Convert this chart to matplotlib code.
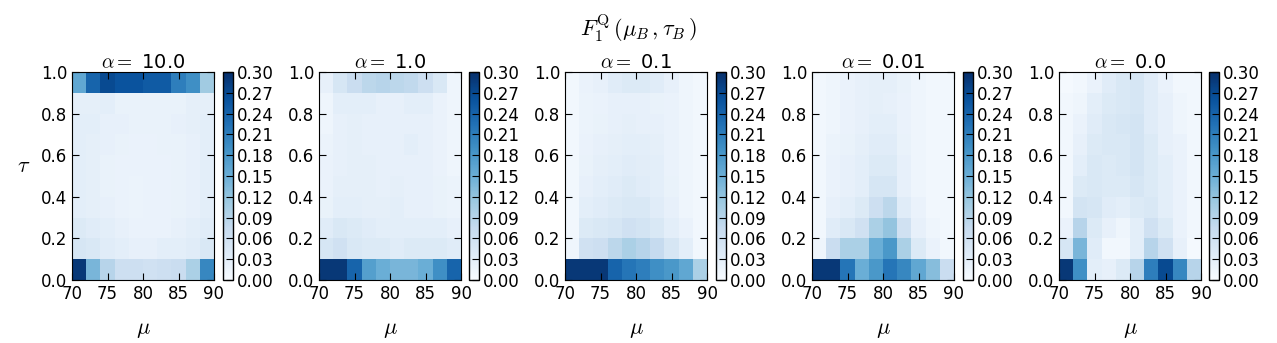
import numpy as np
import matplotlib
matplotlib.use("Agg")
import matplotlib.pyplot as plt

plt.rcParams["mathtext.fontset"] = "cm"
plt.rcParams["font.size"] = 12
plt.rcParams["xtick.direction"] = "in"
plt.rcParams["ytick.direction"] = "in"
plt.rcParams["xtick.top"] = True
plt.rcParams["ytick.right"] = True

mu_edges = np.arange(70, 91, 2)
tau_edges = np.linspace(0.0, 1.0, 11)
alphas = ["10.0", "1.0", "0.1", "0.01", "0.0"]
cbar_ticks = np.arange(0, 0.301, 0.03)

# rows go from tau=0.0-0.1 (first) to tau=0.9-1.0 (last); columns mu 70..90
f1_a10 = [
    [0.29, 0.14, 0.09, 0.065, 0.065, 0.06, 0.065, 0.07, 0.10, 0.20],
    [0.05, 0.045, 0.035, 0.03, 0.025, 0.025, 0.03, 0.03, 0.035, 0.045],
    [0.04, 0.035, 0.03, 0.025, 0.02, 0.02, 0.02, 0.025, 0.03, 0.035],
    [0.03, 0.028, 0.025, 0.02, 0.018, 0.02, 0.02, 0.022, 0.025, 0.03],
    [0.03, 0.028, 0.022, 0.02, 0.018, 0.02, 0.02, 0.022, 0.025, 0.03],
    [0.03, 0.028, 0.022, 0.02, 0.02, 0.02, 0.02, 0.022, 0.025, 0.03],
    [0.03, 0.028, 0.025, 0.022, 0.02, 0.02, 0.022, 0.022, 0.025, 0.03],
    [0.03, 0.03, 0.025, 0.025, 0.022, 0.022, 0.022, 0.025, 0.028, 0.03],
    [0.028, 0.028, 0.03, 0.022, 0.022, 0.022, 0.022, 0.022, 0.028, 0.028],
    [0.16, 0.24, 0.27, 0.26, 0.26, 0.25, 0.25, 0.21, 0.19, 0.11],
]
f1_a1 = [
    [0.29, 0.29, 0.24, 0.17, 0.15, 0.14, 0.14, 0.15, 0.19, 0.24],
    [0.05, 0.06, 0.045, 0.04, 0.04, 0.035, 0.04, 0.04, 0.04, 0.035],
    [0.035, 0.045, 0.04, 0.035, 0.03, 0.03, 0.03, 0.03, 0.03, 0.025],
    [0.022, 0.03, 0.03, 0.028, 0.028, 0.03, 0.025, 0.025, 0.022, 0.018],
    [0.02, 0.028, 0.028, 0.028, 0.025, 0.028, 0.025, 0.025, 0.022, 0.018],
    [0.02, 0.025, 0.028, 0.028, 0.025, 0.025, 0.025, 0.025, 0.02, 0.015],
    [0.018, 0.025, 0.028, 0.025, 0.025, 0.025, 0.03, 0.025, 0.02, 0.015],
    [0.015, 0.025, 0.028, 0.025, 0.025, 0.025, 0.025, 0.025, 0.02, 0.015],
    [0.015, 0.03, 0.03, 0.03, 0.025, 0.025, 0.03, 0.03, 0.02, 0.015],
    [0.025, 0.05, 0.07, 0.085, 0.09, 0.085, 0.08, 0.065, 0.045, 0.015],
]
f1_a01 = [
    [0.29, 0.29, 0.29, 0.24, 0.22, 0.21, 0.19, 0.18, 0.16, 0.10],
    [0.015, 0.06, 0.065, 0.085, 0.10, 0.09, 0.075, 0.05, 0.03, 0.01],
    [0.01, 0.04, 0.045, 0.05, 0.06, 0.055, 0.045, 0.03, 0.02, 0.01],
    [0.01, 0.03, 0.035, 0.04, 0.045, 0.045, 0.035, 0.025, 0.015, 0.01],
    [0.01, 0.025, 0.03, 0.035, 0.04, 0.035, 0.03, 0.022, 0.015, 0.01],
    [0.01, 0.022, 0.028, 0.03, 0.035, 0.032, 0.03, 0.02, 0.015, 0.01],
    [0.01, 0.02, 0.025, 0.028, 0.03, 0.03, 0.028, 0.02, 0.015, 0.01],
    [0.01, 0.018, 0.022, 0.025, 0.028, 0.025, 0.025, 0.02, 0.015, 0.01],
    [0.01, 0.018, 0.02, 0.025, 0.025, 0.025, 0.022, 0.02, 0.015, 0.01],
    [0.01, 0.02, 0.025, 0.035, 0.04, 0.04, 0.035, 0.025, 0.015, 0.01],
]
f1_a001 = [
    [0.29, 0.29, 0.22, 0.15, 0.18, 0.22, 0.20, 0.16, 0.13, 0.07],
    [0.015, 0.07, 0.10, 0.10, 0.15, 0.18, 0.10, 0.04, 0.02, 0.01],
    [0.01, 0.035, 0.045, 0.06, 0.10, 0.12, 0.06, 0.025, 0.015, 0.01],
    [0.01, 0.025, 0.03, 0.04, 0.065, 0.085, 0.035, 0.02, 0.01, 0.01],
    [0.01, 0.02, 0.025, 0.03, 0.05, 0.05, 0.025, 0.015, 0.01, 0.01],
    [0.01, 0.02, 0.025, 0.03, 0.04, 0.04, 0.025, 0.015, 0.01, 0.01],
    [0.01, 0.018, 0.022, 0.028, 0.035, 0.035, 0.022, 0.015, 0.01, 0.01],
    [0.01, 0.015, 0.02, 0.025, 0.03, 0.03, 0.02, 0.015, 0.01, 0.01],
    [0.01, 0.015, 0.02, 0.025, 0.028, 0.025, 0.02, 0.015, 0.01, 0.01],
    [0.01, 0.015, 0.02, 0.025, 0.028, 0.028, 0.022, 0.015, 0.01, 0.01],
]
f1_a0 = [
    [0.29, 0.19, 0.03, 0.025, 0.04, 0.09, 0.21, 0.27, 0.20, 0.09],
    [0.05, 0.14, 0.035, 0.01, 0.01, 0.03, 0.09, 0.06, 0.025, 0.005],
    [0.02, 0.09, 0.04, 0.025, 0.015, 0.03, 0.06, 0.04, 0.02, 0.01],
    [0.01, 0.055, 0.05, 0.035, 0.03, 0.04, 0.045, 0.03, 0.02, 0.01],
    [0.01, 0.04, 0.045, 0.04, 0.04, 0.05, 0.04, 0.03, 0.02, 0.01],
    [0.01, 0.03, 0.045, 0.04, 0.045, 0.055, 0.04, 0.03, 0.02, 0.01],
    [0.01, 0.025, 0.04, 0.045, 0.045, 0.055, 0.04, 0.025, 0.02, 0.01],
    [0.01, 0.02, 0.035, 0.045, 0.05, 0.055, 0.035, 0.025, 0.015, 0.01],
    [0.01, 0.015, 0.03, 0.04, 0.045, 0.05, 0.035, 0.025, 0.015, 0.01],
    [0.005, 0.01, 0.02, 0.035, 0.045, 0.05, 0.035, 0.02, 0.01, 0.01],
]
panels = [f1_a10, f1_a1, f1_a01, f1_a001, f1_a0]

W, H = 1277, 343
fig = plt.figure(figsize=(W / 100, H / 100), dpi=100)

ax_left = [72, 319, 565, 812, 1059]
cb_left = [223, 469, 716, 963, 1209]
bottom, height = 63, 208

for i, (vals, a) in enumerate(zip(panels, alphas)):
    ax = fig.add_axes([ax_left[i] / W, bottom / H, 142 / W, height / H])
    mesh = ax.pcolormesh(mu_edges, tau_edges, np.array(vals), cmap="Blues", vmin=0, vmax=0.3)
    ax.set_xlim(70, 90)
    ax.set_ylim(0, 1)
    ax.set_xticks([70, 75, 80, 85, 90])
    ax.set_yticks([0.0, 0.2, 0.4, 0.6, 0.8, 1.0])
    ax.set_yticklabels(["0.0", "0.2", "0.4", "0.6", "0.8", "1.0"])
    ax.tick_params(length=5, width=0.8, labelsize=12)
    ax.set_title(r"$\alpha=$ " + a, fontsize=14, pad=3)
    ax.set_xlabel(r"$\mu$", fontsize=16, labelpad=12)
    if i == 0:
        ax.set_ylabel(r"$\tau$", fontsize=16, rotation=0, labelpad=12)
    cax = fig.add_axes([cb_left[i] / W, bottom / H, 10 / W, height / H])
    cb = fig.colorbar(mesh, cax=cax, ticks=cbar_ticks, format="%.2f")
    cb.ax.tick_params(direction="in", length=5, width=0.8, labelsize=12, pad=3)
    cb.outline.set_linewidth(1.0)

fig.suptitle(r"$F_1^{\mathrm{Q}}\,(\mu_B\,,\tau_B\,)$", fontsize=16, y=0.965)

plt.savefig("out.png", dpi=100)
plt.close(fig)
